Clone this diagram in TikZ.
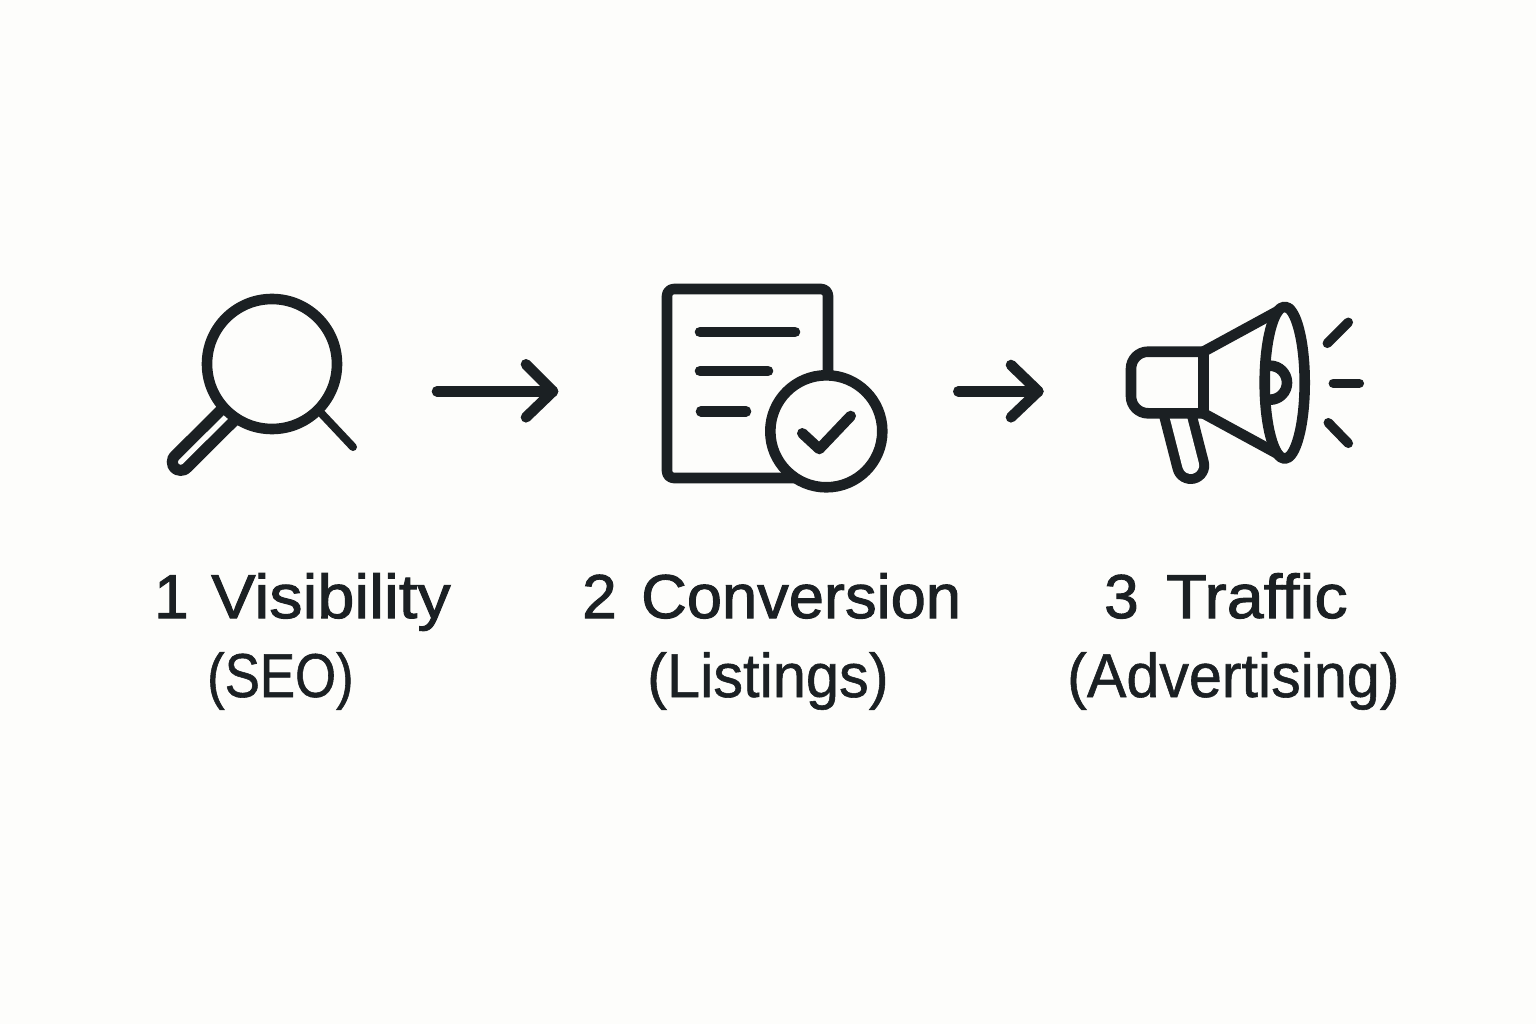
\documentclass[tikz,border=0pt]{standalone}
\usepackage{fontspec}
\setmainfont{Liberation Sans}
\definecolor{ink}{HTML}{1B2023}
\definecolor{paper}{HTML}{FDFDFB}
\newcommand{\headfont}[1]{\addfontfeature{FakeBold=1.6,FakeStretch=#1}}
\newcommand{\subfont}[1]{\addfontfeature{FakeBold=0.9,FakeStretch=#1}}
\tikzset{
  iconline/.style={draw=ink,line width=10.6pt,line cap=round,line join=round},
  thin ray/.style={draw=ink,line width=9.5pt,line cap=round},
  label/.style={text=ink,inner sep=0pt,anchor=base west,font=\fontsize{62}{62}\selectfont},
}
\begin{document}
\begin{tikzpicture}[x=1pt,y=-1pt]
\useasboundingbox (0,0) rectangle (1536,1024);
\fill[paper] (0,0) rectangle (1536,1024);
% magnifier
\coordinate (lensc) at (272,364);
\coordinate (hA) at (180.7,462);
\coordinate (hB) at (232,411);
\draw[ink,line width=28pt,line cap=round] (hA) -- (hB);
\draw[paper,line width=5.5pt,line cap=round] (hA) -- (227,416);
\draw[draw=ink,line width=8pt,line cap=round] (321,413) -- (353,447);
\draw[iconline,fill=paper] (lensc) circle (65);
% arrow 1
\coordinate (a1s) at (437,391.3);
\coordinate (a1e) at (553,391.3);
\draw[iconline] (a1s) -- (a1e);
\draw[iconline] (526,364.3) -- (a1e) -- (526,417.3);
% document
\draw[iconline,rounded corners=7pt] (828,430) -- (828,289) -- (667,289) -- (667,478) -- (800,478);
\draw[iconline] (700,332) -- (795,332);
\draw[iconline] (700,371) -- (768,371);
\draw[iconline] (701,411.3) -- (746,411.3);
\draw[iconline,fill=paper] (826.3,431.3) circle (56);
\draw[iconline] (802.3,433.3) -- (819.3,449) -- (850.7,416);
% arrow 2
\coordinate (a2s) at (958.3,391.3);
\coordinate (a2e) at (1038.3,391.3);
\draw[iconline] (a2s) -- (a2e);
\draw[iconline] (1011,365) -- (a2e) -- (1011,417.3);
% megaphone
\draw[ink,line width=37pt,line cap=round] (1177,412) -- (1190.7,465.5);
\draw[paper,line width=17pt,line cap=round] (1177,412) -- (1190.7,465.5);
\draw[iconline,fill=paper,rounded corners=17pt] (1203.3,351.7) -- (1131,351.7) -- (1131,413.3) -- (1203.3,413.3);
\draw[iconline] (1203.3,351.7) -- (1203.3,413.3);
\draw[iconline] (1203.3,351.7) -- (1278,311);
\draw[iconline] (1203.3,413.3) -- (1278,454);
\draw[iconline] (1284.7,382.7) ellipse[x radius=20,y radius=76];
\draw[iconline] (1270,365.7) arc[start angle=-90,end angle=90,radius=17];
\draw[thin ray] (1327.3,343.3) -- (1348.3,322.3);
\draw[thin ray] (1333.3,383.3) -- (1359.3,383.3);
\draw[thin ray] (1328.3,422.7) -- (1348.3,443.3);
% labels
\node[label] (n1) at (154,618) {\headfont{1}1};
\node[label] (t1) at (211,618) {\headfont{1.075}Visibility};
\node[label] (s1) at (207,697) {\subfont{0.85}(SEO)};
\node[label] (n2) at (582,618) {\headfont{1}2};
\node[label] (t2) at (641,618) {\headfont{1.02}Conversion};
\node[label] (s2) at (647,697) {\subfont{0.96}(Listings)};
\node[label] (n3) at (1104,618) {\headfont{1}3};
\node[label] (t3) at (1166,618) {\headfont{1.075}Traffic};
\node[label] (s3) at (1067,697) {\subfont{0.955}(Advertising)};
\end{tikzpicture}
\end{document}
